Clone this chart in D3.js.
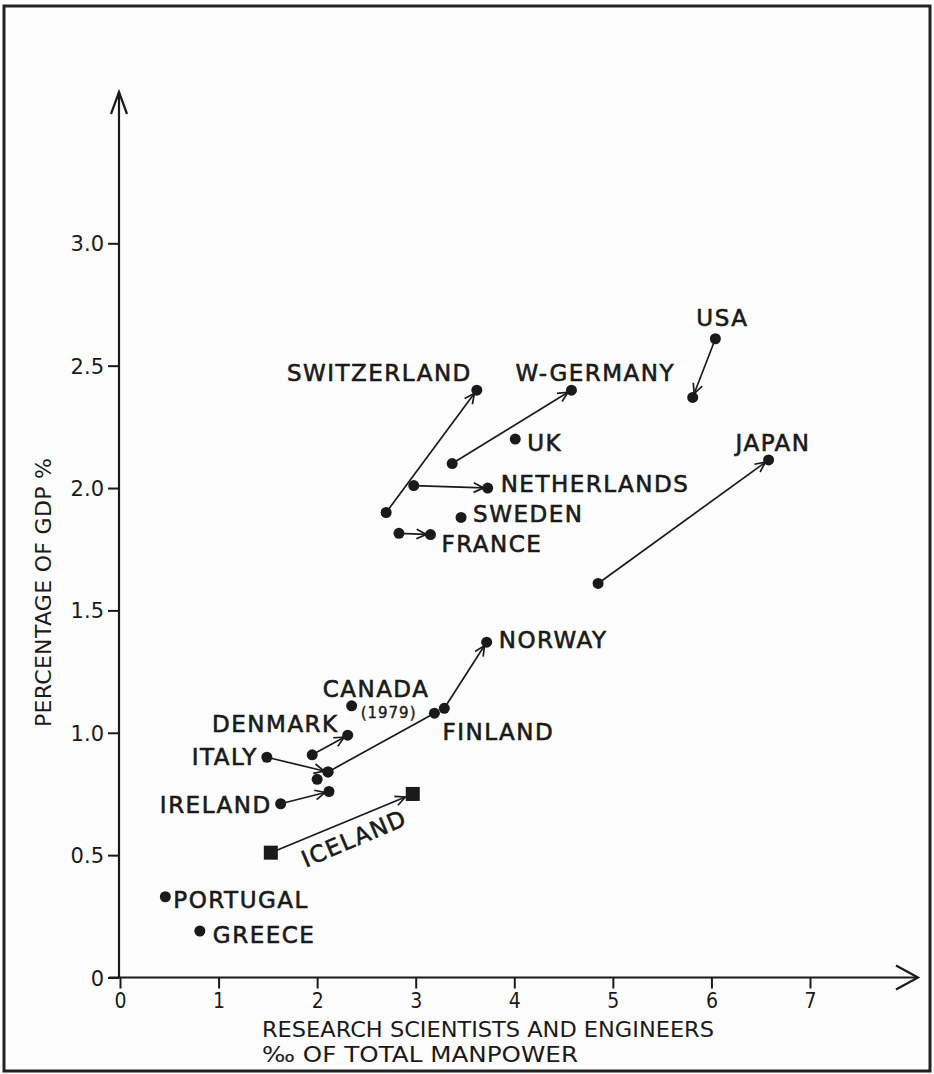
<!DOCTYPE html>
<html>
<head>
<meta charset="utf-8">
<script src="https://cdn.jsdelivr.net/npm/d3@7/dist/d3.min.js"></script>
<style>
  html, body { margin: 0; padding: 0; background: #fff; }
  svg { display: block; }
  text { font-family: "DejaVu Sans", sans-serif; fill: #1a1a1a; }
</style>
</head>
<body>
<svg id="chart" width="934" height="1074"></svg>
<script>
// ---------- data ----------
const xTicks = [0, 1, 2, 3, 4, 5, 6, 7];
const xTickLabels = ["0", "1", "2", "3", "4", "5", "6", "7"];
const yTicks = [0, 0.5, 1, 1.5, 2, 2.5, 3];
const yTickLabels = ["0", "0.5", "1.0", "1.5", "2.0", "2.5", "3.0"];

// countries that moved (from -> to)
const moveNames = ["USA", "JAPAN", "SWITZERLAND", "W-GERMANY", "NETHERLANDS", "FRANCE",
                   "DENMARK", "ITALY", "IRELAND", "FINLAND", "NORWAY", "ICELAND"];
const moveFromX = [6.04, 4.85, 2.70, 3.37, 2.98, 2.83, 1.95, 1.49, 1.63, 2.11, 3.29, 1.53];
const moveFromY = [2.61, 1.61, 1.90, 2.10, 2.01, 1.815, 0.91, 0.90, 0.71, 0.84, 1.10, 0.51];
const moveToX   = [5.81, 6.58, 3.62, 4.58, 3.73, 3.15, 2.31, 2.11, 2.12, 3.19, 3.72, 2.97];
const moveToY   = [2.37, 2.115, 2.40, 2.40, 2.00, 1.81, 0.99, 0.84, 0.76, 1.08, 1.37, 0.75];
const moveHasHead = [true, true, true, true, true, true, true, true, true, false, true, true];

// single observations
const pointNames = ["UK", "SWEDEN", "CANADA", "PORTUGAL", "GREECE", ""];
const pointX = [4.01, 3.46, 2.35, 0.46, 0.81, 2.00];
const pointY = [2.20, 1.88, 1.11, 0.33, 0.19, 0.81];

const squareNames = ["ICELAND"];
const xTitle = ["RESEARCH SCIENTISTS AND ENGINEERS", "\u2030  OF TOTAL MANPOWER"];
const yTitle = "PERCENTAGE OF GDP %";

// ---------- layout (label placement relative to marks, pixels) ----------
const labelLayout = {
  "USA":         {at: "from", dx: 7,   dy: -13, anchor: "middle"},
  "JAPAN":       {at: "to",   dx: -33, dy: -9,  anchor: "start"},
  "SWITZERLAND": {at: "to",   dx: -5,  dy: -9,  anchor: "end"},
  "W-GERMANY":   {at: "to",   dx: -56, dy: -9,  anchor: "start"},
  "NETHERLANDS": {at: "to",   dx: 13,  dy: 4,   anchor: "start"},
  "FRANCE":      {at: "to",   dx: 11,  dy: 17,  anchor: "start"},
  "DENMARK":     {at: "to",   dx: -9,  dy: -3,  anchor: "end"},
  "ITALY":       {at: "from", dx: -9,  dy: 8,   anchor: "end"},
  "IRELAND":     {at: "from", dx: -9,  dy: 9,   anchor: "end"},
  "FINLAND":     {at: "to",   dx: 8,   dy: 27,  anchor: "start"},
  "NORWAY":      {at: "to",   dx: 12,  dy: 6,   anchor: "start"},
  "ICELAND":     {at: "from", dx: 35,  dy: 15,  anchor: "start", rotate: -23},
  "UK":          {dx: 12, dy: 12, anchor: "start"},
  "SWEDEN":      {dx: 12, dy: 5,  anchor: "start"},
  "CANADA":      {dx: -29, dy: -9, anchor: "start", note: "(1979)", ndx: 9, ndy: 12},
  "PORTUGAL":    {dx: 8,  dy: 11, anchor: "start"},
  "GREECE":      {dx: 13, dy: 12, anchor: "start"}
};

// ---------- drawing ----------
const svg = d3.select("#chart");
const ink = "#1a1a1a";

svg.append("rect").attr("x", 0).attr("y", 0).attr("width", 934).attr("height", 1074).attr("fill", "#fdfdfd");
svg.append("rect").attr("x", 4).attr("y", 6).attr("width", 926).attr("height", 1065)
   .attr("fill", "none").attr("stroke", "#222").attr("stroke-width", 3);

const x = d3.scaleLinear().domain([0, 7]).range([120, 810]);
const y = d3.scaleLinear().domain([0, 3]).range([977.5, 243.3]);

// arrow marker
const defs = svg.append("defs");
defs.append("marker").attr("id", "head")
  .attr("markerUnits", "userSpaceOnUse")
  .attr("viewBox", "-12 -7 14 14")
  .attr("markerWidth", 14).attr("markerHeight", 14)
  .attr("refX", 0).attr("refY", 0)
  .attr("orient", "auto")
  .append("path").attr("d", "M-10,-4.8 L0,0 L-10,4.8")
  .attr("fill", "none").attr("stroke", ink).attr("stroke-width", 1.7);

// axes via d3 axis generators
const xAxis = d3.axisBottom(x).tickValues(xTicks)
  .tickFormat((d, i) => xTickLabels[i]).tickSize(11).tickPadding(5);
const gx = svg.append("g").attr("transform", `translate(0,${y(0)})`).call(xAxis);
gx.select(".domain").remove();
gx.selectAll(".tick line").attr("stroke", ink).attr("stroke-width", 2);
gx.selectAll(".tick text").attr("font-size", 21).attr("fill", ink)
  .style("font-family", "'DejaVu Sans Condensed', 'DejaVu Sans', sans-serif")
  .style("font-stretch", "condensed");

const yAxis = d3.axisLeft(y).tickValues(yTicks)
  .tickFormat((d, i) => yTickLabels[i]).tickSize(11).tickPadding(4);
const gy = svg.append("g").attr("transform", `translate(${x(0) - 1},0)`).call(yAxis);
gy.select(".domain").remove();
gy.selectAll(".tick line").attr("stroke", ink).attr("stroke-width", 2);
gy.selectAll(".tick text").attr("font-size", 21).attr("fill", ink).attr("dy", "0.36em");

// axis lines with open arrowheads
const ax0 = x(0) - 1, ay0 = y(0);
svg.append("line").attr("x1", ax0 - 10).attr("y1", ay0).attr("x2", 918).attr("y2", ay0)
  .attr("stroke", ink).attr("stroke-width", 2.2);
svg.append("path").attr("d", `M896,${ay0 - 12} L918,${ay0} L896,${ay0 + 12}`)
  .attr("fill", "none").attr("stroke", ink).attr("stroke-width", 2.2);
svg.append("line").attr("x1", ax0).attr("y1", ay0).attr("x2", ax0).attr("y2", 92)
  .attr("stroke", ink).attr("stroke-width", 2.2);
svg.append("path").attr("d", `M${ax0 - 8},114 L${ax0},92 L${ax0 + 8},114`)
  .attr("fill", "none").attr("stroke", ink).attr("stroke-width", 2.2);

// axis titles
svg.append("text").attr("x", 262).attr("y", 1037)
  .attr("font-size", 22).attr("textLength", 452).attr("lengthAdjust", "spacingAndGlyphs")
  .text(xTitle[0]);
svg.append("text").attr("x", 262).attr("y", 1062)
  .attr("font-size", 22).attr("textLength", 316).attr("lengthAdjust", "spacingAndGlyphs")
  .text(xTitle[1]);
svg.append("text").attr("transform", "translate(51,727) rotate(-90)")
  .attr("font-size", 22).attr("letter-spacing", 0.3).text(yTitle);

// movement arrows
const moves = moveNames.map((n, i) => ({
  name: n, x0: moveFromX[i], y0: moveFromY[i], x1: moveToX[i], y1: moveToY[i],
  head: moveHasHead[i], square: squareNames.includes(n)
}));

const gMoves = svg.append("g");
moves.forEach(m => {
  const px0 = x(m.x0), py0 = y(m.y0), px1 = x(m.x1), py1 = y(m.y1);
  const len = Math.hypot(px1 - px0, py1 - py0);
  const ux = (px1 - px0) / len, uy = (py1 - py0) / len;
  const endGap = m.square ? 8 : (m.head ? 4 : 0);
  gMoves.append("line")
    .attr("x1", px0).attr("y1", py0)
    .attr("x2", px1 - ux * endGap).attr("y2", py1 - uy * endGap)
    .attr("stroke", ink).attr("stroke-width", 1.7)
    .attr("marker-end", m.head ? "url(#head)" : null);
});

// markers
moves.forEach(m => {
  [[m.x0, m.y0], [m.x1, m.y1]].forEach(([vx, vy]) => {
    if (m.square) {
      svg.append("rect").attr("x", x(vx) - 7).attr("y", y(vy) - 7)
        .attr("width", 14).attr("height", 14).attr("fill", ink);
    } else {
      svg.append("circle").attr("cx", x(vx)).attr("cy", y(vy)).attr("r", 5.5).attr("fill", ink);
    }
  });
});
pointNames.forEach((n, i) => {
  svg.append("circle").attr("cx", x(pointX[i])).attr("cy", y(pointY[i])).attr("r", 5.5).attr("fill", ink);
});

// labels
function addLabel(name, px, py) {
  const L = labelLayout[name];
  if (!L) return;
  const tx = px + L.dx, ty = py + L.dy;
  const t = svg.append("text")
    .attr("font-size", 23).attr("letter-spacing", 1.5)
    .attr("stroke", ink).attr("stroke-width", 0.6)
    .attr("text-anchor", L.anchor).text(name);
  if (L.rotate) t.attr("transform", `translate(${tx},${ty}) rotate(${L.rotate})`);
  else t.attr("x", tx).attr("y", ty);
  if (L.note) {
    svg.append("text").attr("x", px + L.ndx).attr("y", py + L.ndy)
      .attr("font-size", 15).attr("letter-spacing", 1)
      .attr("stroke", ink).attr("stroke-width", 0.4).text(L.note);
  }
}
moves.forEach(m => {
  const L = labelLayout[m.name];
  if (!L) return;
  if (L.at === "from") addLabel(m.name, x(m.x0), y(m.y0));
  else addLabel(m.name, x(m.x1), y(m.y1));
});
pointNames.forEach((n, i) => { if (n) addLabel(n, x(pointX[i]), y(pointY[i])); });
</script>
</body>
</html>
